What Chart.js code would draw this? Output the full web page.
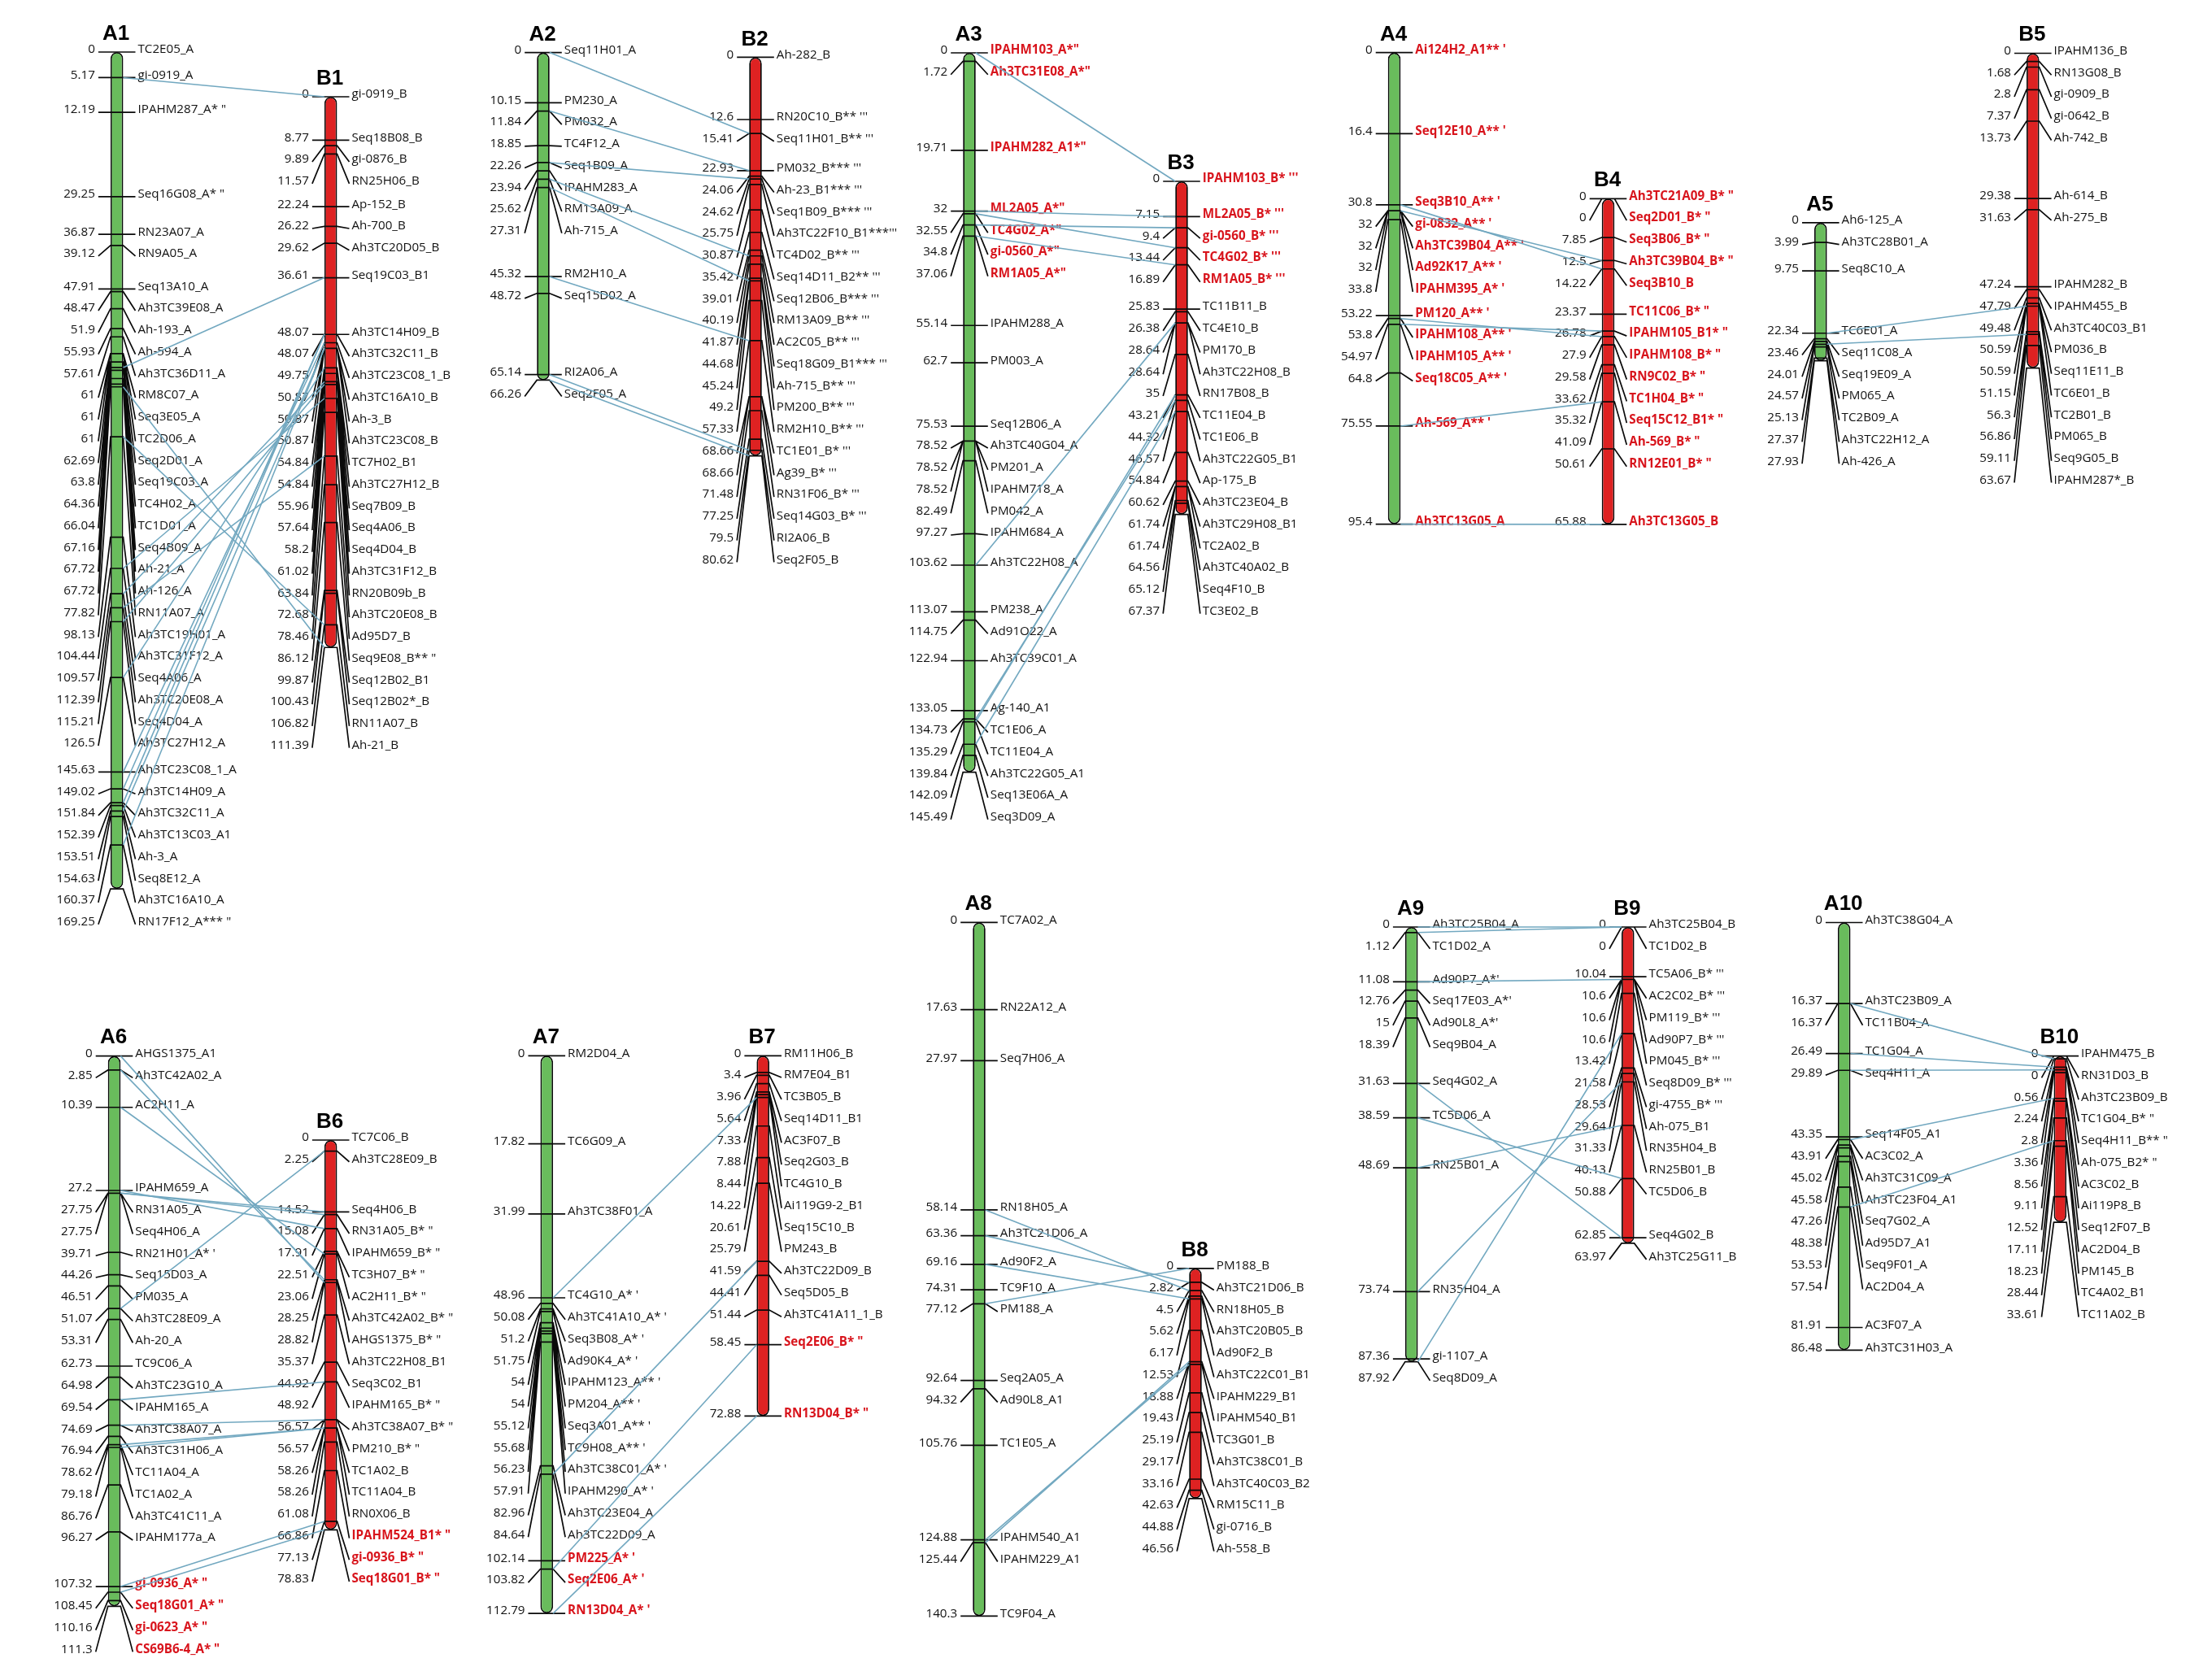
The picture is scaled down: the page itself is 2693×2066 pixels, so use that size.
<!DOCTYPE html>
<html>
<head>
<meta charset="utf-8">
<title>Linkage maps A1-A10 / B1-B10</title>
<script src="https://cdn.jsdelivr.net/npm/chart.js@4"></script>
<style>
    html, body { margin: 0; padding: 0; background: #fff; }
    canvas { display: block; }
</style>
</head>
<body>
<canvas id="map" width="2693" height="2066"></canvas>
<script>
// Marker positions (cM) and marker names, one pair of lists per linkage group
const a1Pos = [0, 5.17, 12.19, 29.25, 36.87, 39.12, 47.91, 48.47, 51.9, 55.93, 57.61, 61, 61, 61, 62.69, 63.8, 64.36, 66.04, 67.16, 67.72, 67.72, 77.82, 98.13, 104.44, 109.57, 112.39, 115.21, 126.5, 145.63, 149.02, 151.84, 152.39, 153.51, 154.63, 160.37, 169.25];
const a1Names = ['TC2E05_A', 'gi-0919_A', 'IPAHM287_A* "', 'Seq16G08_A* "', 'RN23A07_A', 'RN9A05_A', 'Seq13A10_A', 'Ah3TC39E08_A', 'Ah-193_A', 'Ah-594_A', 'Ah3TC36D11_A', 'RM8C07_A', 'Seq3E05_A', 'TC2D06_A', 'Seq2D01_A', 'Seq19C03_A', 'TC4H02_A', 'TC1D01_A', 'Seq4B09_A', 'Ah-21_A', 'Ah-126_A', 'RN11A07_A', 'Ah3TC19H01_A', 'Ah3TC31F12_A', 'Seq4A06_A', 'Ah3TC20E08_A', 'Seq4D04_A', 'Ah3TC27H12_A', 'Ah3TC23C08_1_A', 'Ah3TC14H09_A', 'Ah3TC32C11_A', 'Ah3TC13C03_A1', 'Ah-3_A', 'Seq8E12_A', 'Ah3TC16A10_A', 'RN17F12_A*** "'];
const b1Pos = [0, 8.77, 9.89, 11.57, 22.24, 26.22, 29.62, 36.61, 48.07, 48.07, 49.75, 50.87, 50.87, 50.87, 54.84, 54.84, 55.96, 57.64, 58.2, 61.02, 63.84, 72.68, 78.46, 86.12, 99.87, 100.43, 106.82, 111.39];
const b1Names = ['gi-0919_B', 'Seq18B08_B', 'gi-0876_B', 'RN25H06_B', 'Ap-152_B', 'Ah-700_B', 'Ah3TC20D05_B', 'Seq19C03_B1', 'Ah3TC14H09_B', 'Ah3TC32C11_B', 'Ah3TC23C08_1_B', 'Ah3TC16A10_B', 'Ah-3_B', 'Ah3TC23C08_B', 'TC7H02_B1', 'Ah3TC27H12_B', 'Seq7B09_B', 'Seq4A06_B', 'Seq4D04_B', 'Ah3TC31F12_B', 'RN20B09b_B', 'Ah3TC20E08_B', 'Ad95D7_B', 'Seq9E08_B** "', 'Seq12B02_B1', 'Seq12B02*_B', 'RN11A07_B', 'Ah-21_B'];

const a2Pos = [0, 10.15, 11.84, 18.85, 22.26, 23.94, 25.62, 27.31, 45.32, 48.72, 65.14, 66.26];
const a2Names = ['Seq11H01_A', 'PM230_A', 'PM032_A', 'TC4F12_A', 'Seq1B09_A', 'IPAHM283_A', 'RM13A09_A', 'Ah-715_A', 'RM2H10_A', 'Seq15D02_A', 'RI2A06_A', 'Seq2F05_A'];
const b2Pos = [0, 12.6, 15.41, 22.93, 24.06, 24.62, 25.75, 30.87, 35.42, 39.01, 40.19, 41.87, 44.68, 45.24, 49.2, 57.33, 68.66, 68.66, 71.48, 77.25, 79.5, 80.62];
const b2Names = ['Ah-282_B', "RN20C10_B** '''", "Seq11H01_B** '''", "PM032_B*** '''", "Ah-23_B1*** '''", "Seq1B09_B*** '''", "Ah3TC22F10_B1***'''", "TC4D02_B** '''", "Seq14D11_B2** '''", "Seq12B06_B*** '''", "RM13A09_B** '''", "AC2C05_B** '''", "Seq18G09_B1*** '''", "Ah-715_B** '''", "PM200_B** '''", "RM2H10_B** '''", "TC1E01_B* '''", "Ag39_B* '''", "RN31F06_B* '''", "Seq14G03_B* '''", 'RI2A06_B', 'Seq2F05_B'];

const a3Pos = [0, 1.72, 19.71, 32, 32.55, 34.8, 37.06, 55.14, 62.7, 75.53, 78.52, 78.52, 78.52, 82.49, 97.27, 103.62, 113.07, 114.75, 122.94, 133.05, 134.73, 135.29, 139.84, 142.09, 145.49];
const a3Names = ['IPAHM103_A*"', 'Ah3TC31E08_A*"', 'IPAHM282_A1*"', 'ML2A05_A*"', 'TC4G02_A*"', 'gi-0560_A*"', 'RM1A05_A*"', 'IPAHM288_A', 'PM003_A', 'Seq12B06_A', 'Ah3TC40G04_A', 'PM201_A', 'IPAHM718_A', 'PM042_A', 'IPAHM684_A', 'Ah3TC22H08_A', 'PM238_A', 'Ad91O22_A', 'Ah3TC39C01_A', 'Ag-140_A1', 'TC1E06_A', 'TC11E04_A', 'Ah3TC22G05_A1', 'Seq13E06A_A', 'Seq3D09_A'];
const b3Pos = [0, 7.15, 9.4, 13.44, 16.89, 25.83, 26.38, 28.64, 28.64, 35, 43.21, 44.32, 46.57, 54.84, 60.62, 61.74, 61.74, 64.56, 65.12, 67.37];
const b3Names = ["IPAHM103_B* '''", "ML2A05_B* '''", "gi-0560_B* '''", "TC4G02_B* '''", "RM1A05_B* '''", 'TC11B11_B', 'TC4E10_B', 'PM170_B', 'Ah3TC22H08_B', 'RN17B08_B', 'TC11E04_B', 'TC1E06_B', 'Ah3TC22G05_B1', 'Ap-175_B', 'Ah3TC23E04_B', 'Ah3TC29H08_B1', 'TC2A02_B', 'Ah3TC40A02_B', 'Seq4F10_B', 'TC3E02_B'];

const a4Pos = [0, 16.4, 30.8, 32, 32, 32, 33.8, 53.22, 53.8, 54.97, 64.8, 75.55, 95.4];
const a4Names = ["Ai124H2_A1** '", "Seq12E10_A** '", "Seq3B10_A** '", "gi-0832_A** '", "Ah3TC39B04_A** '", "Ad92K17_A** '", "IPAHM395_A* '", "PM120_A** '", "IPAHM108_A** '", "IPAHM105_A** '", "Seq18C05_A** '", "Ah-569_A** '", 'Ah3TC13G05_A'];
const b4Pos = [0, 0, 7.85, 12.5, 14.22, 23.37, 26.78, 27.9, 29.58, 33.62, 35.32, 41.09, 50.61, 65.88];
const b4Names = ['Ah3TC21A09_B* "', 'Seq2D01_B* "', 'Seq3B06_B* "', 'Ah3TC39B04_B* "', 'Seq3B10_B', 'TC11C06_B* "', 'IPAHM105_B1* "', 'IPAHM108_B* "', 'RN9C02_B* "', 'TC1H04_B* "', 'Seq15C12_B1* "', 'Ah-569_B* "', 'RN12E01_B* "', 'Ah3TC13G05_B'];

const a5Pos = [0, 3.99, 9.75, 22.34, 23.46, 24.01, 24.57, 25.13, 27.37, 27.93];
const a5Names = ['Ah6-125_A', 'Ah3TC28B01_A', 'Seq8C10_A', 'TC6E01_A', 'Seq11C08_A', 'Seq19E09_A', 'PM065_A', 'TC2B09_A', 'Ah3TC22H12_A', 'Ah-426_A'];
const b5Pos = [0, 1.68, 2.8, 7.37, 13.73, 29.38, 31.63, 47.24, 47.79, 49.48, 50.59, 50.59, 51.15, 56.3, 56.86, 59.11, 63.67];
const b5Names = ['IPAHM136_B', 'RN13G08_B', 'gi-0909_B', 'gi-0642_B', 'Ah-742_B', 'Ah-614_B', 'Ah-275_B', 'IPAHM282_B', 'IPAHM455_B', 'Ah3TC40C03_B1', 'PM036_B', 'Seq11E11_B', 'TC6E01_B', 'TC2B01_B', 'PM065_B', 'Seq9G05_B', 'IPAHM287*_B'];

const a6Pos = [0, 2.85, 10.39, 27.2, 27.75, 27.75, 39.71, 44.26, 46.51, 51.07, 53.31, 62.73, 64.98, 69.54, 74.69, 76.94, 78.62, 79.18, 86.76, 96.27, 107.32, 108.45, 110.16, 111.3];
const a6Names = ['AHGS1375_A1', 'Ah3TC42A02_A', 'AC2H11_A', 'IPAHM659_A', 'RN31A05_A', 'Seq4H06_A', "RN21H01_A* '", 'Seq15D03_A', 'PM035_A', 'Ah3TC28E09_A', 'Ah-20_A', 'TC9C06_A', 'Ah3TC23G10_A', 'IPAHM165_A', 'Ah3TC38A07_A', 'Ah3TC31H06_A', 'TC11A04_A', 'TC1A02_A', 'Ah3TC41C11_A', 'IPAHM177a_A', 'gi-0936_A* "', 'Seq18G01_A* "', 'gi-0623_A* "', 'CS69B6-4_A* "'];
const b6Pos = [0, 2.25, 14.52, 15.08, 17.91, 22.51, 23.06, 28.25, 28.82, 35.37, 44.92, 48.92, 56.57, 56.57, 58.26, 58.26, 61.08, 66.86, 77.13, 78.83];
const b6Names = ['TC7C06_B', 'Ah3TC28E09_B', 'Seq4H06_B', 'RN31A05_B* "', 'IPAHM659_B* "', 'TC3H07_B* "', 'AC2H11_B* "', 'Ah3TC42A02_B* "', 'AHGS1375_B* "', 'Ah3TC22H08_B1', 'Seq3C02_B1', 'IPAHM165_B* "', 'Ah3TC38A07_B* "', 'PM210_B* "', 'TC1A02_B', 'TC11A04_B', 'RN0X06_B', 'IPAHM524_B1* "', 'gi-0936_B* "', 'Seq18G01_B* "'];

const a7Pos = [0, 17.82, 31.99, 48.96, 50.08, 51.2, 51.75, 54, 54, 55.12, 55.68, 56.23, 57.91, 82.96, 84.64, 102.14, 103.82, 112.79];
const a7Names = ['RM2D04_A', 'TC6G09_A', 'Ah3TC38F01_A', "TC4G10_A* '", "Ah3TC41A10_A* '", "Seq3B08_A* '", "Ad90K4_A* '", "IPAHM123_A** '", "PM204_A** '", "Seq3A01_A** '", "TC9H08_A** '", "Ah3TC38C01_A* '", "IPAHM290_A* '", 'Ah3TC23E04_A', 'Ah3TC22D09_A', "PM225_A* '", "Seq2E06_A* '", "RN13D04_A* '"];
const b7Pos = [0, 3.4, 3.96, 5.64, 7.33, 7.88, 8.44, 14.22, 20.61, 25.79, 41.59, 44.41, 51.44, 58.45, 72.88];
const b7Names = ['RM11H06_B', 'RM7E04_B1', 'TC3B05_B', 'Seq14D11_B1', 'AC3F07_B', 'Seq2G03_B', 'TC4G10_B', 'Ai119G9-2_B1', 'Seq15C10_B', 'PM243_B', 'Ah3TC22D09_B', 'Seq5D05_B', 'Ah3TC41A11_1_B', 'Seq2E06_B* "', 'RN13D04_B* "'];

const a8Pos = [0, 17.63, 27.97, 58.14, 63.36, 69.16, 74.31, 77.12, 92.64, 94.32, 105.76, 124.88, 125.44, 140.3];
const a8Names = ['TC7A02_A', 'RN22A12_A', 'Seq7H06_A', 'RN18H05_A', 'Ah3TC21D06_A', 'Ad90F2_A', 'TC9F10_A', 'PM188_A', 'Seq2A05_A', 'Ad90L8_A1', 'TC1E05_A', 'IPAHM540_A1', 'IPAHM229_A1', 'TC9F04_A'];
const b8Pos = [0, 2.82, 4.5, 5.62, 6.17, 12.53, 18.88, 19.43, 25.19, 29.17, 33.16, 42.63, 44.88, 46.56];
const b8Names = ['PM188_B', 'Ah3TC21D06_B', 'RN18H05_B', 'Ah3TC20B05_B', 'Ad90F2_B', 'Ah3TC22C01_B1', 'IPAHM229_B1', 'IPAHM540_B1', 'TC3G01_B', 'Ah3TC38C01_B', 'Ah3TC40C03_B2', 'RM15C11_B', 'gi-0716_B', 'Ah-558_B'];

const a9Pos = [0, 1.12, 11.08, 12.76, 15, 18.39, 31.63, 38.59, 48.69, 73.74, 87.36, 87.92];
const a9Names = ['Ah3TC25B04_A', 'TC1D02_A', "Ad90P7_A*'", "Seq17E03_A*'", "Ad90L8_A*'", 'Seq9B04_A', 'Seq4G02_A', 'TC5D06_A', 'RN25B01_A', 'RN35H04_A', 'gi-1107_A', 'Seq8D09_A'];
const b9Pos = [0, 0, 10.04, 10.6, 10.6, 10.6, 13.42, 21.58, 28.53, 29.64, 31.33, 40.13, 50.88, 62.85, 63.97];
const b9Names = ['Ah3TC25B04_B', 'TC1D02_B', "TC5A06_B* '''", "AC2C02_B* '''", "PM119_B* '''", "Ad90P7_B* '''", "PM045_B* '''", "Seq8D09_B* '''", "gi-4755_B* '''", 'Ah-075_B1', 'RN35H04_B', 'RN25B01_B', 'TC5D06_B', 'Seq4G02_B', 'Ah3TC25G11_B'];

const a10Pos = [0, 16.37, 16.37, 26.49, 29.89, 43.35, 43.91, 45.02, 45.58, 47.26, 48.38, 53.53, 57.54, 81.91, 86.48];
const a10Names = ['Ah3TC38G04_A', 'Ah3TC23B09_A', 'TC11B04_A', 'TC1G04_A', 'Seq4H11_A', 'Seq14F05_A1', 'AC3C02_A', 'Ah3TC31C09_A', 'Ah3TC23F04_A1', 'Seq7G02_A', 'Ad95D7_A1', 'Seq9F01_A', 'AC2D04_A', 'AC3F07_A', 'Ah3TC31H03_A'];
const b10Pos = [0, 0, 0.56, 2.24, 2.8, 3.36, 8.56, 9.11, 12.52, 17.11, 18.23, 28.44, 33.61];
const b10Names = ['IPAHM475_B', 'RN31D03_B', 'Ah3TC23B09_B', 'TC1G04_B* "', 'Seq4H11_B** "', 'Ah-075_B2* "', 'AC3C02_B', 'Ai119P8_B', 'Seq12F07_B', 'AC2D04_B', 'PM145_B', 'TC4A02_B1', 'TC11A02_B'];

// Markers printed in bold red
const redMarkers = [
    'IPAHM103_A*"', 'Ah3TC31E08_A*"', 'IPAHM282_A1*"', 'ML2A05_A*"', 'TC4G02_A*"', 'gi-0560_A*"', 'RM1A05_A*"',
    "IPAHM103_B* '''", "ML2A05_B* '''", "gi-0560_B* '''", "TC4G02_B* '''", "RM1A05_B* '''",
    ...a4Names, ...b4Names,
    'gi-0936_A* "', 'Seq18G01_A* "', 'gi-0623_A* "', 'CS69B6-4_A* "',
    'IPAHM524_B1* "', 'gi-0936_B* "', 'Seq18G01_B* "',
    "PM225_A* '", "Seq2E06_A* '", "RN13D04_A* '", 'Seq2E06_B* "', 'RN13D04_B* "'
];

// Page layout: where each group sits (center x of the bar, y of 0 cM, title baseline)
const WIDTH = 2693;
const HEIGHT = 2066;
const PX_PER_CM = 6.08;       // same map scale in every group
const LABEL_GAP_CM = 4.4;     // labels are pushed down to keep this distance
const BAR_WIDTH = 15.6;
const FAN = 15;               // how far the marker lines stick out of the bar

const groups = [
    { id: 'A1', pos: a1Pos, names: a1Names, cx: 143.7, top: 64, titleY: 49 },
    { id: 'B1', pos: b1Pos, names: b1Names, cx: 406.7, top: 119, titleY: 104 },
    { id: 'A2', pos: a2Pos, names: a2Names, cx: 668, top: 64.6, titleY: 50 },
    { id: 'B2', pos: b2Pos, names: b2Names, cx: 929, top: 70.4, titleY: 56 },
    { id: 'A3', pos: a3Pos, names: a3Names, cx: 1192, top: 65, titleY: 50 },
    { id: 'B3', pos: b3Pos, names: b3Names, cx: 1453, top: 223, titleY: 208 },
    { id: 'A4', pos: a4Pos, names: a4Names, cx: 1714.5, top: 64.6, titleY: 50 },
    { id: 'B4', pos: b4Pos, names: b4Names, cx: 1977.5, top: 244.3, titleY: 229 },
    { id: 'A5', pos: a5Pos, names: a5Names, cx: 2238.8, top: 273.9, titleY: 259 },
    { id: 'B5', pos: b5Pos, names: b5Names, cx: 2499.8, top: 65.5, titleY: 50 },
    { id: 'A6', pos: a6Pos, names: a6Names, cx: 140.5, top: 1298.6, titleY: 1283 },
    { id: 'B6', pos: b6Pos, names: b6Names, cx: 406.7, top: 1402, titleY: 1387 },
    { id: 'A7', pos: a7Pos, names: a7Names, cx: 672.3, top: 1298.3, titleY: 1283 },
    { id: 'B7', pos: b7Pos, names: b7Names, cx: 938.2, top: 1298.3, titleY: 1283 },
    { id: 'A8', pos: a8Pos, names: a8Names, cx: 1204, top: 1134.4, titleY: 1119 },
    { id: 'B8', pos: b8Pos, names: b8Names, cx: 1470, top: 1559.8, titleY: 1545 },
    { id: 'A9', pos: a9Pos, names: a9Names, cx: 1735.7, top: 1140, titleY: 1125 },
    { id: 'B9', pos: b9Pos, names: b9Names, cx: 2001.8, top: 1140, titleY: 1125 },
    { id: 'A10', pos: a10Pos, names: a10Names, cx: 2267.7, top: 1134.5, titleY: 1119 },
    { id: 'B10', pos: b10Pos, names: b10Names, cx: 2533.3, top: 1298.7, titleY: 1283 }
];

const GREEN = '#69bc5c';
const RED = '#de2222';
const LINK_COLOR = '#72a8c0';
const LINE_COLOR = '#0a0a0a';
const LABEL_FONT = '"Open Sans", sans-serif';
const LABEL_SIZE = '15.2px ';
const TITLE_FONT = '"Liberation Sans", Arial, sans-serif';

// Labels stay at their marker unless the label above is too close, then they move down
function labelPositions(pos) {
    const out = [];
    pos.forEach((p, i) => {
        out.push(i === 0 ? p : Math.max(p, out[i - 1] + LABEL_GAP_CM));
    });
    return out;
}

groups.forEach(g => { g.labelPos = labelPositions(g.pos); });

// Same marker on both homeologs: strip the _A / _B1 / _B* ''' ending and compare
function baseName(name) {
    return name.replace(/_[AB]\d*[^_]*$/, '');
}

function findLinks(groupA, groupB) {
    const links = [];
    groupA.names.forEach((name, i) => {
        const j = groupB.names.findIndex(n => baseName(n) === baseName(name));
        if (j >= 0) links.push([groupA.pos[i], groupB.pos[j]]);
    });
    return links;
}

// One polyline per marker: label end - bar edge - across the bar - bar edge - label end
function markerLines(g) {
    const left = g.cx - BAR_WIDTH / 2;
    const right = g.cx + BAR_WIDTH / 2;
    const points = [];
    g.pos.forEach((p, i) => {
        points.push({ x: left - FAN, y: g.labelPos[i] });
        points.push({ x: left, y: p });
        points.push({ x: right, y: p });
        points.push({ x: right + FAN, y: g.labelPos[i] });
        points.push({ x: null, y: null });
    });
    return points;
}

function buildDatasets() {
    const datasets = [];
    groups.forEach(g => {
        const last = g.pos[g.pos.length - 1];
        datasets.push({
            type: 'bar',
            label: g.id,
            yAxisID: 'y' + g.id,
            xAxisID: 'x',
            data: [{ x: g.cx, y: [0, last] }],
            grouped: false,
            // bar width comes from the closest x pair otherwise, the max caps it
            barPercentage: 10,
            categoryPercentage: 1,
            maxBarThickness: BAR_WIDTH,
            backgroundColor: g.id[0] === 'A' ? GREEN : RED,
            borderColor: LINE_COLOR,
            borderWidth: 1.8,
            borderRadius: 8,
            borderSkipped: false,
            order: 2
        });
        datasets.push({
            type: 'scatter',
            label: g.id + ' markers',
            yAxisID: 'y' + g.id,
            xAxisID: 'x',
            data: markerLines(g),
            showLine: true,
            spanGaps: false,
            pointRadius: 0,
            borderColor: LINE_COLOR,
            borderWidth: 1.7,
            order: 1
        });
    });
    return datasets;
}

function buildScales() {
    const scales = {
        x: { type: 'linear', min: 0, max: WIDTH, bounds: 'data', offset: false, display: false }
    };
    groups.forEach(g => {
        scales['y' + g.id] = {
            type: 'linear',
            axis: 'y',
            reverse: true,
            bounds: 'data',
            display: false,
            min: -g.top / PX_PER_CM,
            max: (HEIGHT - g.top) / PX_PER_CM
        };
    });
    return scales;
}

// Titles, marker names and cM values
const labelsPlugin = {
    id: 'markerLabels',
    afterDatasetsDraw(chart) {
        const ctx = chart.ctx;
        const xScale = chart.scales.x;
        ctx.save();
        groups.forEach(g => {
            const yScale = chart.scales['y' + g.id];
            const cx = xScale.getPixelForValue(g.cx);
            ctx.fillStyle = '#000';
            ctx.font = 'bold 26px ' + TITLE_FONT;
            ctx.textAlign = 'center';
            ctx.textBaseline = 'alphabetic';
            ctx.fillText(g.id, cx - 1, g.titleY);

            ctx.textBaseline = 'middle';
            g.names.forEach((name, i) => {
                const y = yScale.getPixelForValue(g.labelPos[i]) - 3;
                const red = redMarkers.includes(name);
                ctx.font = LABEL_SIZE + LABEL_FONT;
                ctx.fillStyle = '#111';
                ctx.textAlign = 'right';
                ctx.fillText(String(g.pos[i]), cx - BAR_WIDTH / 2 - FAN - 4, y);
                ctx.font = (red ? 'bold ' : '') + LABEL_SIZE + LABEL_FONT;
                ctx.fillStyle = red ? '#d8141c' : '#111';
                ctx.textAlign = 'left';
                ctx.fillText(name, cx + BAR_WIDTH / 2 + FAN + 3, y);
            });
        });
        ctx.restore();
    }
};

// Blue connectors between homeologous markers, they run on top of the text
const linksPlugin = {
    id: 'homeologLinks',
    afterDraw(chart) {
        const ctx = chart.ctx;
        const xScale = chart.scales.x;
        ctx.save();
        ctx.strokeStyle = LINK_COLOR;
        ctx.lineWidth = 1.6;
        for (let i = 0; i < groups.length; i += 2) {
            const a = groups[i];
            const b = groups[i + 1];
            const yA = chart.scales['y' + a.id];
            const yB = chart.scales['y' + b.id];
            findLinks(a, b).forEach(link => {
                ctx.beginPath();
                ctx.moveTo(xScale.getPixelForValue(a.cx + BAR_WIDTH / 2), yA.getPixelForValue(link[0]));
                ctx.lineTo(xScale.getPixelForValue(b.cx - BAR_WIDTH / 2), yB.getPixelForValue(link[1]));
                ctx.stroke();
            });
        }
        ctx.restore();
    }
};

new Chart(document.getElementById('map'), {
    type: 'bar',
    data: { datasets: buildDatasets() },
    options: {
        responsive: false,
        animation: false,
        devicePixelRatio: 1,
        events: [],
        layout: { padding: 0 },
        plugins: {
            legend: { display: false },
            title: { display: false },
            tooltip: { enabled: false }
        },
        scales: buildScales()
    },
    plugins: [labelsPlugin, linksPlugin]
});
</script>
</body>
</html>
